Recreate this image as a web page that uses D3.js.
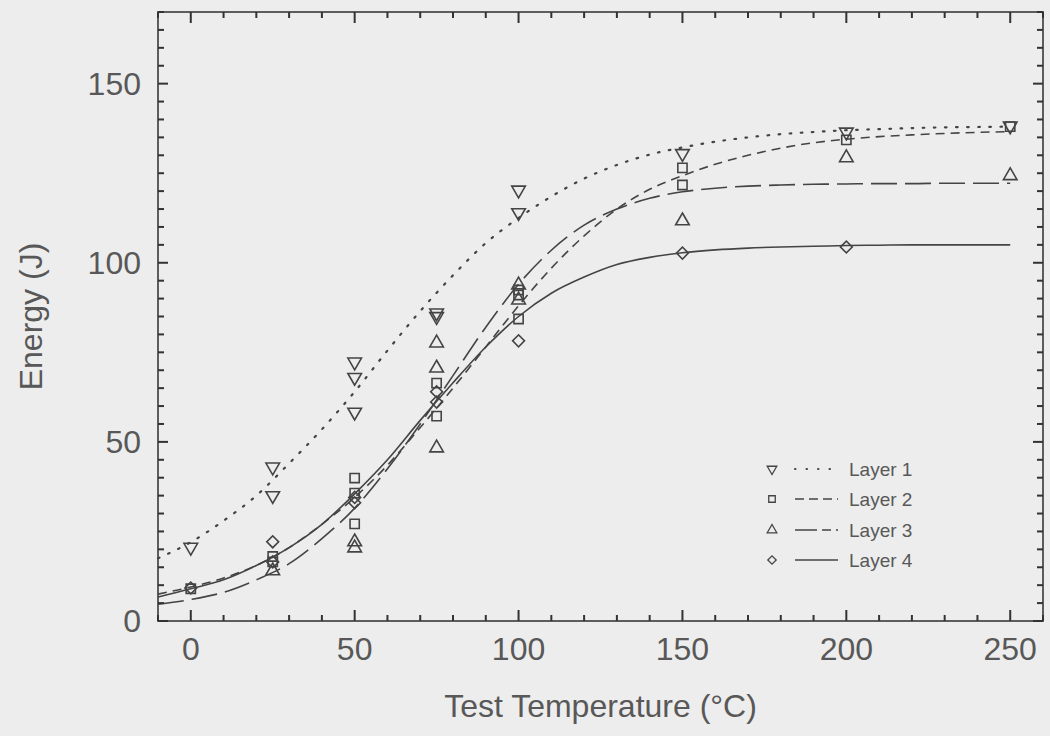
<!DOCTYPE html>
<html>
<head>
<meta charset="utf-8">
<script src="https://cdn.jsdelivr.net/npm/d3@7/dist/d3.min.js"></script>
<style>
  html, body { margin: 0; padding: 0; background: #ededed; }
  svg { display: block; }
  text { font-family: "Liberation Sans", "DejaVu Sans", sans-serif; fill: #585858; }
</style>
</head>
<body>
<svg id="chart" width="1050" height="736"></svg>
<script>
// measured points (test temperature in C, energy in J)
const layerNames = ["Layer 1", "Layer 2", "Layer 3", "Layer 4"];

const layer1Points = [[0, 20.6], [25, 43], [25, 35], [50, 72.3], [50, 68], [50, 58.3],
  [75, 86], [75, 85], [100, 120.3], [100, 114], [150, 130.5], [200, 136.5], [250, 138.2]];
const layer2Points = [[0, 9], [25, 18], [25, 16.5], [50, 39.9], [50, 35.7], [50, 27.1],
  [75, 66.4], [75, 57.2], [100, 92.4], [100, 91], [100, 84.3], [150, 126.5], [150, 121.7],
  [200, 134.3], [250, 138]];
const layer3Points = [[25, 14], [50, 22.1], [50, 20.4], [75, 77.6], [75, 70.6], [75, 48.3],
  [100, 93.8], [100, 89.6], [150, 111.7], [200, 129.3], [250, 124.3]];
const layer4Points = [[0, 9.2], [25, 22.1], [25, 16.5], [50, 34.5], [50, 33], [75, 64],
  [75, 61.1], [100, 78.2], [150, 102.7], [200, 104.4]];

// fitted curves
const curveTemps = [-10, 0, 10, 20, 30, 40, 50, 60, 70, 80, 90, 100, 110, 120, 130,
  140, 150, 160, 170, 180, 190, 200, 210, 220, 230, 240, 250];
const layer1Curve = [17.5, 22, 28, 35, 44, 53.5, 64, 75.5, 86.5, 96.5, 105.5, 112.5, 118.5,
  123.5, 127.3, 130.2, 132.2, 133.8, 135, 135.9, 136.5, 137, 137.3, 137.6, 137.8, 137.9, 138];
const layer2Curve = [7.5, 9.5, 12, 15.5, 20.5, 27, 34.5, 43.5, 54, 65, 76.5, 88, 98.5,
  107.5, 115, 120.5, 124.3, 127.5, 130, 132, 133.5, 134.5, 135.2, 135.7, 136.1, 136.4, 136.6];
const layer3Curve = [4.7, 6, 8, 11.5, 16, 23, 31.5, 42.5, 55, 68.5, 82, 94, 103.5,
  110.5, 115, 118, 119.8, 120.8, 121.4, 121.7, 121.9, 122, 122.1, 122.1, 122.2, 122.2, 122.2];
const layer4Curve = [6.7, 9, 11.5, 15.5, 20.5, 27, 35.5, 45, 56, 66.5, 76.5, 85, 91.5,
  96, 99.5, 101.5, 102.8, 103.6, 104.1, 104.4, 104.6, 104.8, 104.9, 105, 105, 105, 105];

const xTickLabels = [0, 50, 100, 150, 200, 250];
const yTickLabels = [0, 50, 100, 150];

const svg = d3.select("#chart");
const plotLeft = 158, plotRight = 1043, plotTop = 12, plotBottom = 621;

const x = d3.scaleLinear().domain([-10, 260]).range([plotLeft, plotRight]);
const y = d3.scaleLinear().domain([0, 170]).range([plotBottom, plotTop]);

const ink = "#444";

// frame
svg.append("rect")
  .attr("x", plotLeft).attr("y", plotTop)
  .attr("width", plotRight - plotLeft).attr("height", plotBottom - plotTop)
  .attr("fill", "none").attr("stroke", ink).attr("stroke-width", 1.7);

// tick labels
svg.append("g").selectAll("text").data(xTickLabels).join("text")
  .attr("x", d => x(d)).attr("y", 660)
  .attr("text-anchor", "middle")
  .style("font-size", "32px")
  .text(d => d);

svg.append("g").selectAll("text").data(yTickLabels).join("text")
  .attr("x", 141).attr("y", d => y(d) + 11)
  .attr("text-anchor", "end")
  .style("font-size", "32px")
  .text(d => d);

// axis titles
svg.append("text")
  .attr("x", (plotLeft + plotRight) / 2).attr("y", 717)
  .attr("text-anchor", "middle")
  .style("font-size", "32px")
  .text("Test Temperature (°C)");

svg.append("text")
  .attr("transform", `translate(42, ${(plotTop + plotBottom) / 2}) rotate(-90)`)
  .attr("text-anchor", "middle")
  .style("font-size", "32px")
  .text("Energy (J)");

// series styles
const series = [
  { name: layerNames[0], pts: layer1Points, curve: layer1Curve, dash: "1.6,9.5", sym: d3.symbolTriangle, rot: 180, size: 80 },
  { name: layerNames[1], pts: layer2Points, curve: layer2Curve, dash: "9,6", sym: d3.symbolSquare, rot: 0, size: 85 },
  { name: layerNames[2], pts: layer3Points, curve: layer3Curve, dash: "26,8", sym: d3.symbolTriangle, rot: 0, size: 80 },
  { name: layerNames[3], pts: layer4Points, curve: layer4Curve, dash: null, sym: d3.symbolSquare, rot: 45, size: 70 }
];

const line = d3.line()
  .x(d => x(d[0]))
  .y(d => y(d[1]))
  .curve(d3.curveMonotoneX);

const plot = svg.append("g");

series.forEach((s, i) => {
  plot.append("path")
    .datum(curveTemps.map((t, j) => [t, s.curve[j]]))
    .attr("d", line)
    .attr("fill", "none")
    .attr("stroke", ink)
    .attr("stroke-width", i === 0 ? 2.2 : 1.6)
    .attr("stroke-linecap", i === 0 ? "round" : "butt")
    .attr("stroke-dasharray", s.dash);

  plot.append("g").selectAll("path").data(s.pts).join("path")
    .attr("transform", d => `translate(${x(d[0])},${y(d[1])}) rotate(${s.rot})`)
    .attr("d", d3.symbol().type(s.sym).size(s.size))
    .attr("fill", "none")
    .attr("stroke", ink)
    .attr("stroke-width", 1.6);
});

// legend
const legend = svg.append("g");
const legendY = [469, 499, 530, 560];
series.forEach((s, i) => {
  const g = legend.append("g").attr("transform", `translate(0, ${legendY[i]})`);
  g.append("path")
    .attr("transform", `translate(772, 0) rotate(${s.rot})`)
    .attr("d", d3.symbol().type(s.sym).size(s.size * 0.5))
    .attr("fill", "none").attr("stroke", ink).attr("stroke-width", 1.3);
  g.append("line")
    .attr("x1", 795).attr("x2", 838).attr("y1", 0).attr("y2", 0)
    .attr("stroke", ink)
    .attr("stroke-width", i === 0 ? 2 : 1.5)
    .attr("stroke-linecap", i === 0 ? "round" : "butt")
    .attr("stroke-dasharray", i === 0 ? "0.5,11" : i === 1 ? "9,5" : i === 2 ? "22,5,9,5" : null);
  g.append("text")
    .attr("x", 849).attr("y", 7)
    .style("font-size", "19px")
    .text(s.name);
});

// inward ticks on all four sides, drawn as small filled bars on top
const xMinor = d3.range(-10, 261, 10);
const yMinor = d3.range(0, 171, 5);
const tickG = svg.append("g").attr("fill", "#333");
xMinor.forEach(v => {
  const len = v % 50 === 0 ? 11 : 6;
  tickG.append("rect").attr("x", x(v) - 1).attr("y", plotBottom - len).attr("width", 2).attr("height", len);
  tickG.append("rect").attr("x", x(v) - 1).attr("y", plotTop).attr("width", 2).attr("height", len);
});
yMinor.forEach(v => {
  const len = v % 50 === 0 ? 10 : 6;
  tickG.append("rect").attr("x", plotLeft).attr("y", y(v) - 1).attr("width", len).attr("height", 2);
  tickG.append("rect").attr("x", plotRight - len).attr("y", y(v) - 1).attr("width", len).attr("height", 2);
});
</script>
</body>
</html>
